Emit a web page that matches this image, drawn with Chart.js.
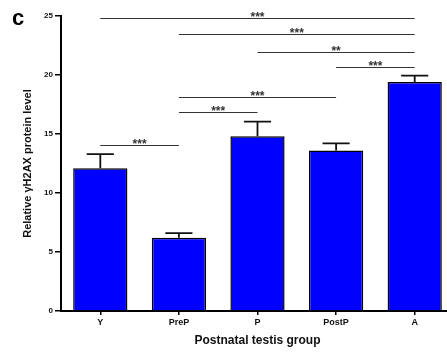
<!DOCTYPE html>
<html>
<head>
<meta charset="utf-8">
<script src="https://cdn.jsdelivr.net/npm/chart.js@4"></script>
<style>
    body { margin: 0; background: #fff; }
    #wrap { width: 447px; height: 352px; overflow: hidden; }
</style>
</head>
<body>
<div id="wrap"><canvas id="gh2axChart" width="454" height="352"></canvas></div>
<script>
// data
const groups = ['Y', 'PreP', 'P', 'PostP', 'A'];
const means = [12.1, 6.2, 14.8, 13.6, 19.4];
const errors = [1.2, 0.4, 1.25, 0.6, 0.55];
const yTicks = [0, 5, 10, 15, 20, 25];

// significance brackets: from group, to group, height, label
const sigFrom = ['Y', 'PreP', 'P', 'PostP', 'PreP', 'PreP', 'Y'];
const sigTo = ['A', 'A', 'A', 'A', 'PostP', 'P', 'PreP'];
const sigLevel = [24.87, 23.48, 21.93, 20.72, 18.12, 16.85, 14.11];
const sigLabel = ['***', '***', '**', '***', '***', '***', '***'];

const fontFamily = '"Liberation Sans", Arial, sans-serif';

const errorBarsPlugin = {
    id: 'errorBars',
    afterDatasetsDraw(chart) {
        const ctx = chart.ctx;
        const y = chart.scales.y;
        const bars = chart.getDatasetMeta(0).data;
        ctx.save();
        ctx.strokeStyle = '#111';
        ctx.lineWidth = 1.8;
        bars.forEach((bar, i) => {
            const top = y.getPixelForValue(means[i]);
            const cap = y.getPixelForValue(means[i] + errors[i]);
            const half = bar.width * 0.25;
            ctx.beginPath();
            ctx.moveTo(bar.x, top);
            ctx.lineTo(bar.x, cap);
            ctx.moveTo(bar.x - half, cap);
            ctx.lineTo(bar.x + half, cap);
            ctx.stroke();
        });
        ctx.restore();
    }
};

const significancePlugin = {
    id: 'significance',
    afterDraw(chart) {
        const ctx = chart.ctx;
        const x = chart.scales.x;
        const y = chart.scales.y;
        ctx.save();
        ctx.strokeStyle = '#333';
        ctx.fillStyle = '#333';
        ctx.lineWidth = 1;
        ctx.font = 'bold 12px ' + fontFamily;
        ctx.textAlign = 'center';
        ctx.textBaseline = 'alphabetic';
        sigLevel.forEach((level, i) => {
            const x1 = x.getPixelForValue(groups.indexOf(sigFrom[i]));
            const x2 = x.getPixelForValue(groups.indexOf(sigTo[i]));
            const py = Math.round(y.getPixelForValue(level)) + 0.5;
            ctx.beginPath();
            ctx.moveTo(x1, py);
            ctx.lineTo(x2, py);
            ctx.stroke();
            ctx.fillText(sigLabel[i], (x1 + x2) / 2, py + 2);
        });
        // panel letter
        ctx.fillStyle = '#000';
        ctx.textAlign = 'left';
        ctx.font = 'bold 22px ' + fontFamily;
        ctx.fillText('c', 12, 25);
        ctx.restore();
    }
};

function createGammaH2AXChart() {
    const chart = document.getElementById('gh2axChart');
    new Chart(chart, {
        type: 'bar',
        data: {
            labels: groups,
            datasets: [{
                label: 'Relative γH2AX protein level',
                data: means,
                backgroundColor: '#0000ff',
                borderColor: '#000',
                borderWidth: 1.5,
                barPercentage: 0.69,
                categoryPercentage: 1
            }]
        },
        options: {
            responsive: false,
            animation: false,
            devicePixelRatio: 1,
            layout: {
                padding: { left: 17, top: 16, right: 0, bottom: 0 }
            },
            scales: {
                x: {
                    offset: true,
                    grid: {
                        offset: false,
                        drawOnChartArea: false,
                        tickLength: 4,
                        color: '#000',
                        lineWidth: 1.5
                    },
                    border: { color: '#000', width: 2 },
                    ticks: {
                        color: '#111',
                        padding: 2,
                        font: { family: fontFamily, size: 9, weight: 'bold' }
                    },
                    title: {
                        display: true,
                        text: 'Postnatal testis group',
                        color: '#111',
                        font: { family: fontFamily, size: 12, weight: 'bold' }
                    },
                    afterFit(scale) { scale.height = 41; }
                },
                y: {
                    min: 0,
                    max: 25,
                    afterBuildTicks(scale) {
                        scale.ticks = yTicks.map(v => ({ value: v }));
                    },
                    grid: {
                        drawOnChartArea: false,
                        tickLength: 6,
                        color: '#000',
                        lineWidth: 1.5
                    },
                    border: { color: '#000', width: 2 },
                    ticks: {
                        color: '#111',
                        padding: 2,
                        font: { family: fontFamily, size: 8, weight: 'bold' }
                    },
                    title: {
                        display: true,
                        text: 'Relative γH2AX protein level',
                        color: '#111',
                        font: { family: fontFamily, size: 11, weight: 'bold' }
                    },
                    afterFit(scale) { scale.width = 44; }
                }
            },
            plugins: {
                legend: { display: false },
                tooltip: { enabled: false }
            }
        },
        plugins: [errorBarsPlugin, significancePlugin]
    });
}

createGammaH2AXChart();
</script>
</body>
</html>
